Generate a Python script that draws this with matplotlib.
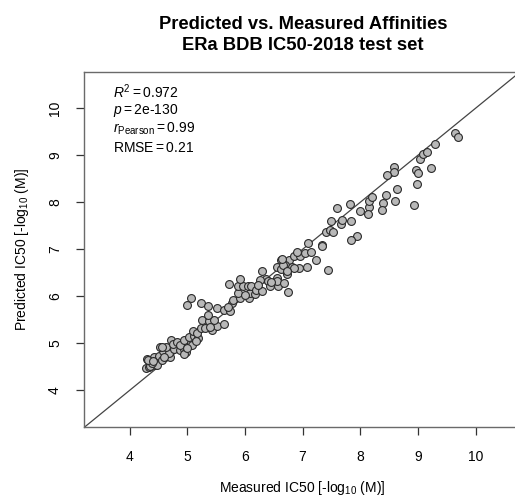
import matplotlib
matplotlib.use("Agg")
import matplotlib.pyplot as plt

plt.rcParams['font.family'] = ['Liberation Sans', 'DejaVu Sans']
plt.rcParams['mathtext.fontset'] = 'custom'
plt.rcParams['mathtext.rm'] = 'Liberation Sans'
plt.rcParams['mathtext.it'] = 'Liberation Sans:italic'

# measured vs predicted pIC50
measured = [4.28, 4.34, 4.44, 4.31, 4.36, 4.45, 4.48, 4.39, 4.42, 4.51,
            4.62, 4.56, 4.70, 4.58, 4.68, 4.64, 4.53, 4.57, 4.77, 4.87,
            4.95, 4.97, 4.72, 4.76, 4.82, 4.88, 4.94, 5.07, 5.08, 5.03,
            5.11, 5.18, 5.10, 5.17, 5.23, 5.30, 5.43, 5.52, 5.63, 5.26,
            5.37, 5.46, 5.36, 5.24, 5.36, 5.52, 5.63, 5.74, 5.77, 5.06,
            5.00, 5.72, 4.94, 4.32, 5.71, 5.80, 5.91, 6.07, 5.88, 6.08,
            6.17, 5.88, 5.97, 6.06, 6.11, 6.19, 6.29, 5.91, 6.29, 6.37,
            6.27, 6.23, 6.40, 6.44, 6.58, 6.55, 6.56, 6.67, 6.74, 6.73,
            6.56, 6.62, 6.77, 6.69, 6.63, 6.81, 6.94, 7.08, 6.85, 6.95,
            6.90, 7.04, 7.10, 7.24, 7.33, 7.33, 7.44, 7.40, 7.48, 7.52,
            7.50, 7.66, 7.69, 7.60, 7.82, 7.84, 7.95, 7.84, 7.99, 8.15,
            8.16, 8.20, 8.14, 8.45, 8.40, 8.37, 8.61, 8.63, 8.59, 8.59,
            8.46, 8.99, 8.94, 8.96, 9.00, 9.22, 9.04, 9.09, 9.15, 9.29,
            9.65, 9.69, 7.14, 6.85, 6.66, 6.73, 6.64, 4.40, 4.60, 5.00,
            5.40, 5.15, 6.00, 6.45]
predicted = [4.48, 4.49, 4.55, 4.67, 4.52, 4.59, 4.55, 4.58, 4.71, 4.74,
             4.71, 4.64, 4.72, 4.83, 4.79, 4.92, 4.92, 4.93, 4.88, 4.86,
             4.88, 4.81, 5.08, 4.99, 5.03, 4.97, 5.08, 5.01, 4.97, 5.13,
             5.15, 5.11, 5.27, 5.22, 5.33, 5.33, 5.29, 5.37, 5.42, 5.50,
             5.47, 5.50, 5.61, 5.86, 5.80, 5.75, 5.71, 5.69, 5.86, 5.96,
             5.82, 6.27, 4.78, 4.65, 5.78, 5.93, 5.96, 5.96, 6.08, 6.07,
             6.05, 6.21, 6.21, 6.21, 6.21, 6.14, 6.12, 6.37, 6.54, 6.37,
             6.35, 6.25, 6.32, 6.21, 6.22, 6.40, 6.32, 6.28, 6.10, 6.47,
             6.63, 6.78, 6.78, 6.67, 6.58, 6.62, 6.60, 6.62, 6.85, 6.85,
             6.95, 6.93, 7.14, 6.77, 7.10, 7.06, 6.56, 7.36, 7.41, 7.37,
             7.61, 7.54, 7.63, 7.88, 7.96, 7.61, 7.29, 7.20, 7.82, 7.91,
             8.02, 8.12, 7.75, 8.15, 7.98, 7.84, 8.03, 8.29, 8.76, 8.65,
             8.58, 8.38, 7.95, 8.69, 8.63, 8.72, 8.93, 9.02, 9.06, 9.23,
             9.48, 9.38, 6.94, 6.60, 6.67, 6.53, 6.79, 4.62, 4.70, 4.90,
             5.35, 5.05, 6.02, 6.30]

ticks = [4, 5, 6, 7, 8, 9, 10]
lims = (3.215, 10.77)

fig = plt.figure(figsize=(5.15, 4.99), dpi=100)
ax = fig.add_axes([0.1637, 0.1437, 0.846, 0.712])

ax.plot(lims, lims, color='#444444', lw=0.9, zorder=1)
ax.scatter(measured, predicted, s=32, c='#b8b8b8', edgecolors='#2a2a2a',
           linewidths=0.8, zorder=2)

ax.set_xlim(lims)
ax.set_ylim(lims)
ax.set_xticks(ticks)
ax.set_yticks(ticks)
ax.tick_params(direction='out', length=6, width=0.9, color='#333333',
               labelsize=10, pad=10)
ax.tick_params(axis='y', labelrotation=90)
for lab in ax.get_yticklabels():
    lab.set_va('center')
for s in ax.spines.values():
    s.set_color('#6a6a6a')
    s.set_linewidth(1.0)

ax.text(0.0665, 0.944, r'$R^2 = 0.972$', transform=ax.transAxes,
        fontsize=10, va='center', ha='left')
ax.text(0.0665, 0.893, r'$p = 2\mathrm{e}$-$\mathrm{130}$', transform=ax.transAxes,
        fontsize=10, va='center', ha='left')
ax.text(0.0665, 0.840, r'$r_{\mathrm{Pearson}} = 0.99$', transform=ax.transAxes,
        fontsize=10, va='center', ha='left')
ax.text(0.0665, 0.785, r'$\mathrm{RMSE} = 0.21$', transform=ax.transAxes,
        fontsize=10, va='center', ha='left')

fig.text(0.588, 0.9419, 'Predicted vs. Measured Affinities', ha='center',
         va='baseline', fontsize=13.2, fontweight='bold')
fig.text(0.588, 0.8998, 'ERa BDB IC50-2018 test set', ha='center',
         va='baseline', fontsize=13.2, fontweight='bold')

fig.text(0.5865, 0.022, r'Measured IC50 [-log$_{10}$ (M)]', ha='center',
         va='center', fontsize=10)
fig.text(0.043, 0.5, r'Predicted IC50 [-log$_{10}$ (M)]', ha='center',
         va='center', rotation=90, fontsize=10)

fig.savefig('out.png', dpi=100)
